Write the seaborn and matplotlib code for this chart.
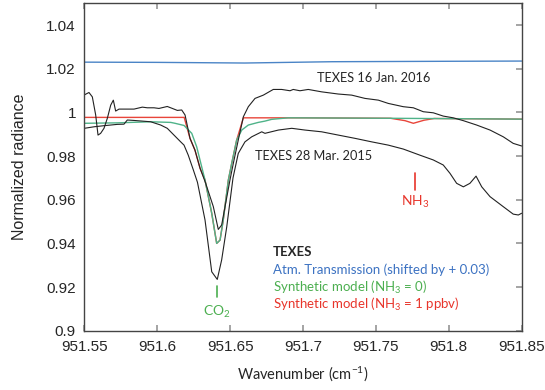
import matplotlib
matplotlib.use("Agg")
import matplotlib.pyplot as plt
import seaborn as sns
import pandas as pd

# ---------------- data ----------------
jan_x = [951.5500, 951.5532, 951.5555, 951.5578, 951.5594, 951.5612, 951.5635, 951.5658,
         951.5681, 951.5699, 951.5715, 951.5738, 951.5795, 951.5841, 951.5898, 951.5932,
         951.5978, 951.6012, 951.6069, 951.6104, 951.6138, 951.6168, 951.6191, 951.6225,
         951.6259, 951.6294, 951.6330, 951.6385, 951.6419, 951.6442, 951.6499,
         951.6522, 951.6556, 951.6591, 951.6625, 951.6671, 951.6728, 951.6796, 951.6854,
         951.6911, 951.6933, 951.6979, 951.7036, 951.7128, 951.7242, 951.7334, 951.7425,
         951.7517, 951.7585, 951.7688, 951.7757, 951.7825, 951.7894, 951.7962, 951.8031,
         951.8100, 951.8191, 951.8283, 951.8374, 951.8442, 951.8500]
jan_y = [1.0080, 1.0091, 1.0071, 0.9988, 0.9896, 0.9904, 0.9927, 0.9973,
         1.0033, 1.0056, 1.0006, 1.0015, 1.0015, 1.0015, 1.0024, 1.0021,
         1.0021, 1.0018, 1.0027, 1.0018, 1.0009, 1.0011, 0.9988, 0.9881,
         0.9827, 0.9744, 0.9680, 0.9568, 0.9464, 0.9484, 0.9690,
         0.9766, 0.9873, 0.9980, 1.0026, 1.0064, 1.0079, 1.0105, 1.0105,
         1.0099, 1.0105, 1.0099, 1.0105, 1.0094, 1.0084, 1.0079, 1.0064,
         1.0056, 1.0041, 1.0026, 1.0021, 1.0003, 0.9998, 0.9983, 0.9975,
         0.9962, 0.9942, 0.9919, 0.9888, 0.9858, 0.9846]

mar_x = [951.5500, 951.5567, 951.5635, 951.5726, 951.5772, 951.5795, 951.5841, 951.5955,
         951.6024, 951.6069, 951.6115, 951.6161, 951.6184, 951.6213, 951.6248, 951.6276,
         951.6328, 951.6374, 951.6412, 951.6442, 951.6477, 951.6520, 951.6556, 951.6602,
         951.6648, 951.6717, 951.6739, 951.6831, 951.6923, 951.7014, 951.7128, 951.7242,
         951.7357, 951.7471, 951.7585, 951.7688, 951.7802, 951.7894, 951.7962, 951.8008,
         951.8054, 951.8100, 951.8145, 951.8187, 951.8226, 951.8283, 951.8374, 951.8442,
         951.8477, 951.8500]
mar_y = [0.9927, 0.9934, 0.9939, 0.9945, 0.9946, 0.9965, 0.9963, 0.9957,
         0.9942, 0.9927, 0.9896, 0.9865, 0.9850, 0.9804, 0.9736, 0.9680,
         0.9507, 0.9270, 0.9235, 0.9324, 0.9476, 0.9700, 0.9812, 0.9865,
         0.9888, 0.9911, 0.9904, 0.9919, 0.9927, 0.9919, 0.9911, 0.9896,
         0.9881, 0.9865, 0.9850, 0.9832, 0.9804, 0.9782, 0.9759, 0.9721,
         0.9675, 0.9659, 0.9675, 0.9708, 0.9659, 0.9614, 0.9568, 0.9534,
         0.9530, 0.9538]

green_x = [951.5500, 951.5726, 951.5955, 951.6093, 951.6122, 951.6184, 951.6237, 951.6271,
           951.6305, 951.6328, 951.6374, 951.6408, 951.6431, 951.6453, 951.6488, 951.6511,
           951.6545, 951.6580, 951.6625, 951.6693, 951.6739, 951.6785, 951.6899, 951.7597,
           951.8500]
green_y = [0.9950, 0.9952, 0.9957, 0.9954, 0.9950, 0.9940, 0.9904, 0.9842,
           0.9751, 0.9690, 0.9538, 0.9400, 0.9415, 0.9507, 0.9690, 0.9766,
           0.9873, 0.9919, 0.9942, 0.9954, 0.9960, 0.9968, 0.9975, 0.9973,
           0.9969]

red_x = [951.5500, 951.6000, 951.6185, 951.6225, 951.6259, 951.6294, 951.6328, 951.6374,
         951.6408, 951.6431, 951.6453, 951.6488, 951.6511, 951.6545, 951.6591, 951.7000,
         951.7600, 951.7700, 951.7757, 951.7830, 951.7900, 951.8500]
red_y = [0.9977, 0.9977, 0.9977, 0.9881, 0.9827, 0.9744, 0.9690, 0.9538,
         0.9400, 0.9415, 0.9507, 0.9690, 0.9766, 0.9873, 0.9975, 0.9975,
         0.9973, 0.9962, 0.9950, 0.9964, 0.9972, 0.9969]

blue_x = [951.55, 951.60, 951.64, 951.66, 951.68, 951.72, 951.80, 951.85]
blue_y = [1.0230, 1.0229, 1.0227, 1.0226, 1.0228, 1.0232, 1.0234, 1.0235]

x_ticks = [951.55, 951.6, 951.65, 951.7, 951.75, 951.8, 951.85]
x_tick_labels = ["951.55", "951.6", "951.65", "951.7", "951.75", "951.8", "951.85"]
y_ticks = [0.9, 0.92, 0.94, 0.96, 0.98, 1.0, 1.02, 1.04]
y_tick_labels = ["0.9", "0.92", "0.94", "0.96", "0.98", "1", "1.02", "1.04"]

legend_labels = ["TEXES", "Atm. Transmission (shifted by + 0.03)",
                 "Synthetic model (NH$_3$ = 0)", "Synthetic model (NH$_3$ = 1 ppbv)"]

# ---------------- style ----------------
sns.set_theme(style="white")
plt.rcParams["font.family"] = ["Lato", "DejaVu Sans"]
plt.rcParams["mathtext.default"] = "regular"

BLUE = "#4a84c6"
BLUE_T = "#3c72c2"
GREEN = "#4fb389"
GREEN_T = "#4caf50"
RED = "#e8453a"
RED_T = "#e8352b"

fig = plt.figure(figsize=(5.45, 3.9), dpi=100)
ax = fig.add_axes([0.1547, 0.152, 0.8025, 0.8398])

def draw(xs, ys, color, lw):
    df = pd.DataFrame({"x": xs, "y": ys})
    sns.lineplot(data=df, x="x", y="y", ax=ax, color=color, linewidth=lw,
                 sort=False, estimator=None)

draw(blue_x, blue_y, BLUE, 1.0)
draw(red_x, red_y, RED, 1.0)
draw(green_x, green_y, GREEN, 1.0)
draw(jan_x, jan_y, "#222222", 0.8)
draw(mar_x, mar_y, "#222222", 0.8)

ax.set_xlim(951.55, 951.85)
ax.set_ylim(0.9, 1.05)
ax.set_xticks(x_ticks)
ax.set_xticklabels(x_tick_labels, fontfamily="Liberation Sans", fontsize=11)
ax.set_yticks(y_ticks)
ax.set_yticklabels(y_tick_labels, fontfamily="Liberation Sans", fontsize=11)
ax.tick_params(axis="x", which="both", direction="in", top=True, bottom=True,
               length=4, color="#999999", pad=7)
ax.tick_params(axis="y", which="both", direction="in", left=False, right=True,
               length=4, color="#999999", pad=6)
for s in ax.spines.values():
    s.set_color("#444444")
    s.set_linewidth(1.0)

ax.set_xlabel("Wavenumber (cm$^{-1}$)", fontsize=10.5, labelpad=7)
ax.set_ylabel("Normalized radiance", fontsize=11.5, fontfamily="Liberation Sans")
ax.yaxis.set_label_coords(-0.13, 0.5)

# annotations
ax.text(951.7487, 1.0157, "TEXES 16 Jan. 2016", fontsize=9.2, ha="center", va="center")
ax.text(951.7072, 0.9800, "TEXES 28 Mar. 2015", fontsize=9.2, ha="center", va="center")
ax.plot([951.6411, 951.6411], [0.9154, 0.9203], color=GREEN_T, linewidth=1.2)
ax.text(951.6411, 0.9087, "CO$_2$", color=GREEN_T, fontsize=10, ha="center", va="center")
ax.plot([951.7768, 951.7768], [0.9644, 0.9722], color=RED_T, linewidth=1.2)
ax.text(951.7768, 0.9591, "NH$_3$", color=RED_T, fontsize=10, ha="center", va="center")

tx = 951.6794
ax.text(tx, 0.9362, legend_labels[0], fontsize=9.5, fontweight="bold", va="center")
ax.text(tx, 0.9278, legend_labels[1], fontsize=9.5, color=BLUE_T, va="center")
ax.text(tx, 0.9199, legend_labels[2], fontsize=9.5, color=GREEN_T, va="center")
ax.text(tx, 0.9121, legend_labels[3], fontsize=9.5, color=RED_T, va="center")

fig.savefig("out.png", dpi=100)
